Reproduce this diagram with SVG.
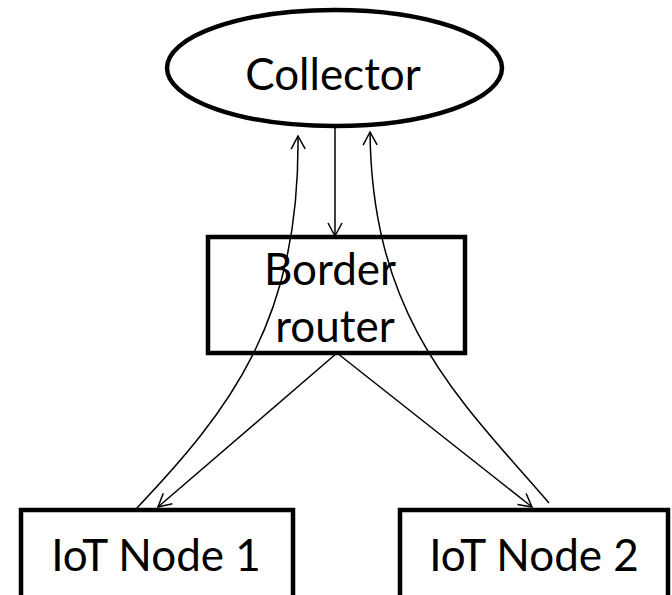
<svg xmlns="http://www.w3.org/2000/svg" width="672" height="595" viewBox="0 0 672 595">
  <style>
    .shape { fill: #fff; stroke: #000; stroke-width: 4.5; }
    .label { font-family: Lato, "Liberation Sans", sans-serif; font-size: 44px; fill: #000; text-anchor: middle; }
    .link { fill: none; stroke: #000; stroke-width: 1.5; marker-end: url(#arrow); }
  </style>
  <defs>
    <marker id="arrow" markerUnits="userSpaceOnUse" viewBox="0 0 16 16" markerWidth="16" markerHeight="16" refX="14" refY="8" orient="auto">
      <path d="M1,1 L14,8 L1,15" fill="none" stroke="#000" stroke-width="1.5"/>
    </marker>
  </defs>
  <rect width="672" height="595" fill="#fff"/>

  <g id="collector">
    <ellipse class="shape" cx="334.5" cy="68" rx="167.5" ry="58"/>
    <text class="label" x="333" y="90">Collector</text>
  </g>

  <g id="border-router">
    <rect class="shape" x="208" y="237" width="257" height="116"/>
    <text class="label" x="330" y="285">Border</text>
    <text class="label" x="335" y="342">router</text>
  </g>

  <g id="iot-node-1">
    <rect class="shape" x="21" y="510" width="272" height="100"/>
    <text class="label" x="156" y="571">IoT Node 1</text>
  </g>

  <g id="iot-node-2">
    <rect class="shape" x="400" y="510" width="268" height="100"/>
    <text class="label" x="534" y="571">IoT Node 2</text>
  </g>

  <g id="connectors">
    <!-- collector to border router -->
    <path class="link" d="M335,128 L335,236"/>
    <!-- border router to each node -->
    <path class="link" d="M337,353 L158,507"/>
    <path class="link" d="M337,353 L532,507"/>
    <!-- nodes report back to the collector -->
    <path class="link" d="M136,509 C230,410 300,320 298,136"/>
    <path class="link" d="M549,503 C460,400 372,320 370,132"/>
  </g>
</svg>
